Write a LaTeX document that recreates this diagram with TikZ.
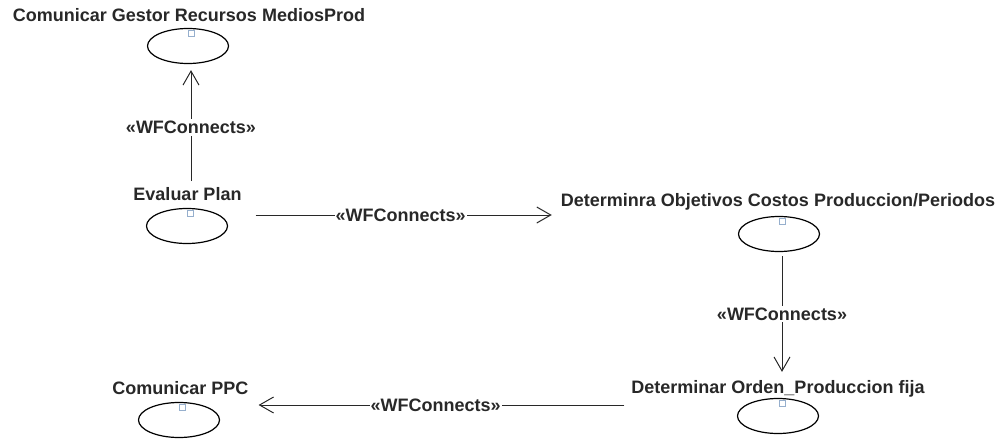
\documentclass[tikz,border=0pt]{standalone}
\usepackage{fontspec}
\setmainfont{Liberation Sans}
\usetikzlibrary{shapes.geometric,arrows.meta,calc}
\definecolor{ink}{RGB}{40,40,40}
\definecolor{markblue}{RGB}{150,175,205}
\begin{document}
\begin{tikzpicture}[x=1pt,y=-1pt,
  usecase/.style={ellipse,draw=black,line width=1.2pt,minimum width=81pt,minimum height=35pt,inner sep=0pt},
  ucname/.style={anchor=base,inner sep=0pt,text=ink,font=\bfseries\fontsize{18}{20}\selectfont},
  marker/.style={draw=markblue,fill=white,line width=0.9pt,minimum size=6pt,inner sep=0pt},
  wf/.style={draw=ink,line width=1pt,-{Straight Barb[length=14pt,width=16pt]}},
  wflabel/.style={fill=white,inner xsep=1pt,inner ysep=2pt,text=ink,font=\bfseries\fontsize{18}{20}\selectfont}]
\useasboundingbox (0,0) rectangle (1005,439);

% use cases
\node[usecase] (e1) at (188,46) {};
\node[usecase] (e2) at (187,226) {};
\node[usecase] (e3) at (779,234) {};
\node[usecase] (e4) at (778,416) {};
\node[usecase] (e5) at (179,420) {};

% names above the use cases
\node[ucname] (t1) at (189,21) {Comunicar Gestor Recursos MediosProd};
\node[ucname] (t2) at (187.5,200.5) {Evaluar Plan};
\node[ucname] (t3) at (778,206.5) {Determinra Objetivos Costos Produccion/Periodos};
\node[ucname] (t4) at (778,393.5) {Determinar Orden\_Produccion fija};
\node[ucname] (t5) at (180.5,394.5) {Comunicar PPC};

% small markers on top of each ellipse
\node[marker] (s1) at ($(e1.north)+(3,5.5)$) {};
\node[marker] (s2) at ($(e2.north)+(3,5.5)$) {};
\node[marker] (s3) at ($(e3.north)+(3,5.5)$) {};
\node[marker] (s4) at ($(e4.north)+(4,5.5)$) {};
\node[marker] (s5) at ($(e5.north)+(3,5.5)$) {};

% connector end points
\coordinate (c1s) at ($(e2.center)+(4,-45)$);
\coordinate (c1e) at ($(e1.south)+(3,6)$);
\coordinate (c2s) at ($(e2.east)+(27.5,-11)$);
\coordinate (c2e) at ($(c2s -| t3.west)+(-9,0)$);
\coordinate (c3s) at ($(e3.south)+(3,4)$);
\coordinate (c3e) at ($(e4.north)+(4,-26)$);
\coordinate (c4s) at ($(e4.west)+(-112.5,-11)$);
\coordinate (c4e) at ($(e5.east)+(38.5,-15)$);

% workflow connections
\draw[wf] (c1s) -- node[wflabel,pos=0.48] (l1) {«WFConnects»} (c1e);
\draw[wf] (c2s) -- node[wflabel,pos=0.49] (l2) {«WFConnects»} (c2e);
\draw[wf] (c3s) -- node[wflabel,pos=0.5] (l3) {«WFConnects»} (c3e);
\draw[wf] (c4s) -- node[wflabel,pos=0.516] (l4) {«WFConnects»} (c4e);
\end{tikzpicture}
\end{document}
